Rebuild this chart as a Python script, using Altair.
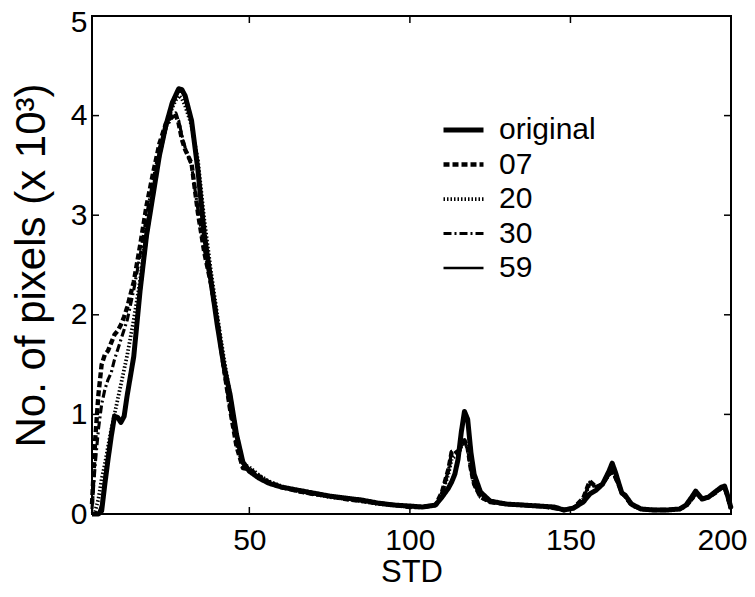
import altair as alt
import pandas as pd

STD = [1, 2, 3, 4, 5, 6, 7, 8, 9, 10, 11, 12, 14, 16, 18, 20, 22, 24, 26, 27, 28, 29, 30,
       32, 34, 36, 38, 40, 42, 44, 46, 48, 50, 53, 56, 60, 65, 70, 75, 80, 85, 90, 95, 100,
       104, 108, 110, 112, 113, 114, 115, 116, 117, 118, 119, 120, 122, 125, 130, 135, 140,
       145, 148, 151, 154, 156, 158, 160, 162, 163, 164, 166, 167, 169, 172, 176, 180, 184,
       186, 188, 189, 191, 193, 195, 197, 198, 199, 200]

original = [0.00, 0.00, 0.00, 0.03, 0.30, 0.55, 0.78, 0.98, 0.97, 0.92, 0.98, 1.20,
            1.58, 2.25, 2.80, 3.20, 3.60, 3.90, 4.13,
            4.20, 4.27, 4.26, 4.20,
            3.95, 3.45, 2.80, 2.35, 1.90, 1.50, 1.20, 0.80, 0.52,
            0.43, 0.36, 0.31, 0.27, 0.24, 0.21, 0.18, 0.16, 0.14, 0.11, 0.09, 0.08, 0.07, 0.09,
            0.17, 0.26, 0.32, 0.40, 0.55, 0.82, 1.03, 0.95, 0.62, 0.40,
            0.22, 0.13, 0.10, 0.09, 0.08, 0.07, 0.04, 0.06, 0.12, 0.20, 0.24, 0.30, 0.43, 0.51,
            0.42, 0.21, 0.19, 0.10, 0.05, 0.04, 0.04, 0.05, 0.09, 0.18, 0.23, 0.15, 0.17, 0.22,
            0.27, 0.28, 0.18, 0.06]

s07 = [0.10, 0.75, 1.20, 1.50, 1.60, 1.64, 1.72, 1.80, 1.84, 1.90, 1.98, 2.08,
       2.33, 2.70, 3.10, 3.42, 3.72, 3.92, 4.00,
       4.02, 3.92, 3.76, 3.66,
       3.52, 3.02, 2.62, 2.32, 1.95, 1.48, 1.05, 0.68, 0.46,
       0.45, 0.38, 0.32, 0.27, 0.23, 0.20, 0.18, 0.15, 0.13, 0.11, 0.09, 0.07, 0.07, 0.09,
       0.22, 0.45, 0.62, 0.64, 0.60, 0.70, 0.74, 0.66, 0.45, 0.30,
       0.17, 0.12, 0.10, 0.09, 0.08, 0.06, 0.04, 0.06, 0.16, 0.33, 0.27, 0.30, 0.40, 0.42,
       0.37, 0.22, 0.18, 0.09, 0.05, 0.04, 0.04, 0.05, 0.08, 0.16, 0.22, 0.15, 0.17, 0.21,
       0.26, 0.27, 0.17, 0.05]

s20 = [0.00, 0.03, 0.15, 0.35, 0.50, 0.68, 0.85, 1.00, 1.15, 1.30, 1.45, 1.60,
       1.95, 2.35, 2.85, 3.25, 3.60, 3.88, 4.08,
       4.15, 4.20, 4.17, 4.10,
       3.90, 3.55, 2.95, 2.45, 2.00, 1.58, 1.20, 0.80, 0.50,
       0.47, 0.39, 0.33, 0.28, 0.23, 0.20, 0.17, 0.15, 0.13, 0.10, 0.09, 0.07, 0.07, 0.09,
       0.20, 0.40, 0.55, 0.58, 0.58, 0.68, 0.72, 0.66, 0.46, 0.30,
       0.17, 0.12, 0.10, 0.09, 0.08, 0.06, 0.04, 0.06, 0.15, 0.30, 0.27, 0.30, 0.40, 0.43,
       0.37, 0.21, 0.18, 0.09, 0.05, 0.04, 0.04, 0.05, 0.08, 0.16, 0.21, 0.15, 0.17, 0.21,
       0.26, 0.27, 0.17, 0.05]

s30 = [0.05, 0.50, 0.85, 1.10, 1.25, 1.35, 1.42, 1.55, 1.65, 1.75, 1.85, 1.95,
       2.25, 2.60, 3.00, 3.35, 3.68, 3.88, 3.98,
       4.00, 3.95, 3.80, 3.68,
       3.50, 3.05, 2.65, 2.30, 1.92, 1.45, 1.05, 0.70, 0.47,
       0.44, 0.37, 0.31, 0.27, 0.23, 0.20, 0.18, 0.15, 0.13, 0.11, 0.09, 0.07, 0.07, 0.09,
       0.22, 0.44, 0.63, 0.63, 0.60, 0.70, 0.73, 0.65, 0.44, 0.30,
       0.17, 0.12, 0.10, 0.09, 0.08, 0.06, 0.04, 0.06, 0.15, 0.32, 0.27, 0.30, 0.39, 0.42,
       0.36, 0.22, 0.18, 0.09, 0.05, 0.04, 0.04, 0.05, 0.08, 0.15, 0.21, 0.15, 0.17, 0.21,
       0.26, 0.27, 0.17, 0.05]

s59 = [0.00, 0.00, 0.01, 0.10, 0.38, 0.62, 0.85, 1.00, 0.96, 0.93, 1.00, 1.18,
       1.55, 2.20, 2.75, 3.18, 3.58, 3.86, 4.10,
       4.18, 4.24, 4.24, 4.18,
       3.92, 3.42, 2.78, 2.38, 1.92, 1.50, 1.18, 0.78, 0.50,
       0.42, 0.36, 0.31, 0.27, 0.24, 0.21, 0.18, 0.16, 0.14, 0.11, 0.09, 0.08, 0.07, 0.09,
       0.17, 0.28, 0.34, 0.42, 0.56, 0.80, 1.00, 0.93, 0.60, 0.39,
       0.21, 0.13, 0.10, 0.09, 0.08, 0.07, 0.04, 0.06, 0.13, 0.21, 0.24, 0.30, 0.42, 0.50,
       0.41, 0.21, 0.19, 0.10, 0.05, 0.04, 0.04, 0.05, 0.09, 0.18, 0.23, 0.15, 0.17, 0.22,
       0.27, 0.28, 0.18, 0.06]

series_names = ["original", "07", "20", "30", "59"]
series_values = [original, s07, s20, s30, s59]
x_ticks = [50, 100, 150, 200]
y_ticks = [0, 1, 2, 3, 4, 5]
inner_x_ticks = [50, 100, 150]
inner_y_ticks = [1, 2, 3, 4]

rows = []
for name, vals in zip(series_names, series_values):
    for x, y in zip(STD, vals):
        rows.append({"STD": x, "count": y, "series": name})
df = pd.DataFrame(rows)

W, H = 639, 498
FONT = "Liberation Sans"
xs = alt.Scale(domain=[1, 200], nice=False, zero=False)
ys = alt.Scale(domain=[0, 5], nice=False)
x_axis = alt.Axis(
    values=x_ticks, title="STD", labelPadding=11, titlePadding=2, labelFlush=False,
    titleFontSize=31,
    labelOffset=alt.ConditionalAxisNumber(
        condition={"test": "datum.value == 200", "value": -9}, value=0),
)
y_axis = alt.Axis(
    values=y_ticks, title="No. of pixels (x 10³)", labelPadding=5, titlePadding=17,
    labelFlush=False, titleFontSize=42,
    labelOffset=alt.ConditionalAxisNumber(
        condition={"test": "datum.value == 5", "value": 6}, value=0),
)

legend = alt.Legend(
    orient="none", legendX=349, legendY=97, title=None,
    symbolType="stroke", symbolSize=1600, symbolStrokeColor="black",
    labelFont=FONT, labelFontSize=30, labelColor="black", labelOffset=13,
    rowPadding=0.5, clipHeight=34, symbolOffset=0,
)

lines = alt.Chart(df).mark_line(color="black", strokeJoin="round").encode(
    x=alt.X("STD:Q", scale=xs, axis=x_axis),
    y=alt.Y("count:Q", scale=ys, axis=y_axis),
    strokeDash=alt.StrokeDash(
        "series:N",
        scale=alt.Scale(domain=series_names,
                        range=[[1, 0], [6, 3], [1.5, 2], [8, 3, 2, 3], [1, 0]]),
        legend=legend, sort=series_names),
    strokeWidth=alt.StrokeWidth(
        "series:N",
        scale=alt.Scale(domain=series_names, range=[5, 2.5, 2.5, 2.5, 2.5]),
        legend=legend, sort=series_names),
    detail="series:N",
)

ytick_df = pd.DataFrame({"STD": inner_y_ticks})
xtick_df = pd.DataFrame({"STD": inner_x_ticks})

left_ticks = alt.Chart(ytick_df).mark_rule(color="black", strokeWidth=1.5).encode(
    y=alt.Y("STD:Q", scale=ys, axis=y_axis), x=alt.value(0), x2=alt.value(7))
right_ticks = alt.Chart(ytick_df).mark_rule(color="black", strokeWidth=1.5).encode(
    y=alt.Y("STD:Q", scale=ys, axis=y_axis), x=alt.value(W - 7), x2=alt.value(W))
bottom_ticks = alt.Chart(xtick_df).mark_rule(color="black", strokeWidth=1.5).encode(
    x=alt.X("STD:Q", scale=xs, axis=x_axis), y=alt.value(H - 7), y2=alt.value(H))
top_ticks = alt.Chart(xtick_df).mark_rule(color="black", strokeWidth=1.5).encode(
    x=alt.X("STD:Q", scale=xs, axis=x_axis), y=alt.value(0), y2=alt.value(7))

chart = alt.layer(lines, left_ticks, right_ticks, bottom_ticks, top_ticks).properties(
    width=W, height=H,
    autosize=alt.AutoSizeParams(type="none"),
    padding={"left": 84, "top": 8, "right": 16, "bottom": 75},
    background="white",
).configure_view(
    stroke="black", strokeWidth=2
).configure_axis(
    grid=False, domain=False, ticks=False,
    labelFont=FONT, labelFontSize=30, labelColor="black",
    titleFont=FONT, titleColor="black", titleFontWeight="normal",
)

chart.save("out.html", embed_options={"renderer": "svg", "actions": False})
